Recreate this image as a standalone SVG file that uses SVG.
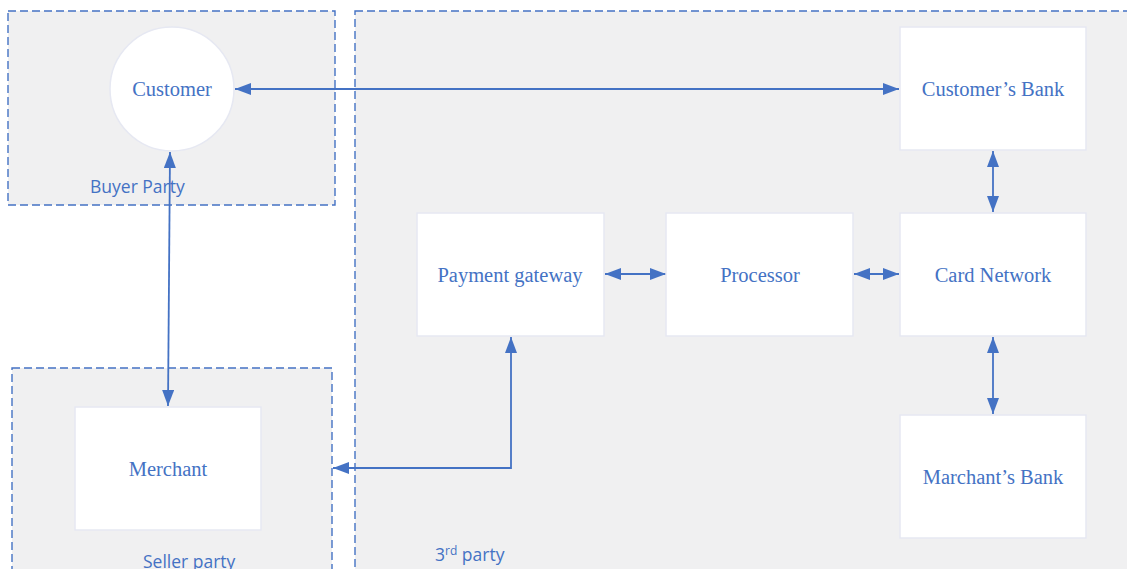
<svg xmlns="http://www.w3.org/2000/svg" width="1127" height="569" viewBox="0 0 1127 569">
<style>
.zone{fill:#f0f0f1;stroke:#4472c4;stroke-width:1.4;stroke-dasharray:8 4}
.node{fill:#ffffff;stroke:#e6e8f2;stroke-width:1.5}
.lbl{font-family:"Liberation Serif","Times New Roman",serif;font-size:20.5px;fill:#4472c4;text-anchor:middle;dominant-baseline:central}
.zl{font-family:"Open Sans","Liberation Sans",sans-serif;font-size:17.5px;fill:#4472c4}
.c{fill:none;stroke:#4472c4;stroke-width:1.8}
</style>
<defs>
<marker id="ah" viewBox="0 0 16 12" refX="16" refY="6" markerWidth="16" markerHeight="12" markerUnits="userSpaceOnUse" orient="auto-start-reverse">
<path d="M0,0 L16,6 L0,12 Z" fill="#4472c4"/>
</marker>
</defs>
<rect width="1127" height="569" fill="#ffffff"/>
<g id="zone-buyer">
<rect class="zone" x="8" y="11" width="327" height="194"/>
<text class="zl" x="90" y="193">Buyer Party</text>
</g>
<g id="zone-seller">
<rect class="zone" x="12" y="368" width="320" height="215"/>
<text class="zl" x="143" y="568">Seller party</text>
</g>
<g id="zone-third">
<rect class="zone" x="355" y="11" width="790" height="580"/>
<text class="zl" x="435" y="561">3<tspan font-size="12" dy="-6">rd</tspan><tspan dy="6"> party</tspan></text>
</g>
<g id="connectors">
<line class="c" x1="235" y1="89" x2="899" y2="89" marker-start="url(#ah)" marker-end="url(#ah)"/>
<line class="c" x1="170" y1="152" x2="168" y2="406" marker-start="url(#ah)" marker-end="url(#ah)"/>
<line class="c" x1="605" y1="274" x2="666" y2="274" marker-start="url(#ah)" marker-end="url(#ah)"/>
<line class="c" x1="854" y1="274" x2="899" y2="274" marker-start="url(#ah)" marker-end="url(#ah)"/>
<line class="c" x1="993" y1="151" x2="993" y2="212" marker-start="url(#ah)" marker-end="url(#ah)"/>
<line class="c" x1="993" y1="337" x2="993" y2="414" marker-start="url(#ah)" marker-end="url(#ah)"/>
<path class="c" d="M511,337 L511,468 L333,468" marker-start="url(#ah)" marker-end="url(#ah)"/>
</g>
<g id="customer">
<circle class="node" cx="172" cy="89" r="62"/>
<text class="lbl" x="172" y="89">Customer</text>
</g>
<g id="merchant">
<rect class="node" x="75" y="407" width="186" height="123"/>
<text class="lbl" x="168" y="469">Merchant</text>
</g>
<g id="customers-bank">
<rect class="node" x="900" y="27" width="186" height="123"/>
<text class="lbl" x="993" y="89">Customer’s Bank</text>
</g>
<g id="card-network">
<rect class="node" x="900" y="213" width="186" height="123"/>
<text class="lbl" x="993" y="275">Card Network</text>
</g>
<g id="marchants-bank">
<rect class="node" x="900" y="415" width="186" height="123"/>
<text class="lbl" x="993" y="477">Marchant’s Bank</text>
</g>
<g id="payment-gateway">
<rect class="node" x="417" y="213" width="187" height="123"/>
<text class="lbl" x="510" y="275">Payment gateway</text>
</g>
<g id="processor">
<rect class="node" x="666" y="213" width="187" height="123"/>
<text class="lbl" x="760" y="275">Processor</text>
</g>
</svg>
